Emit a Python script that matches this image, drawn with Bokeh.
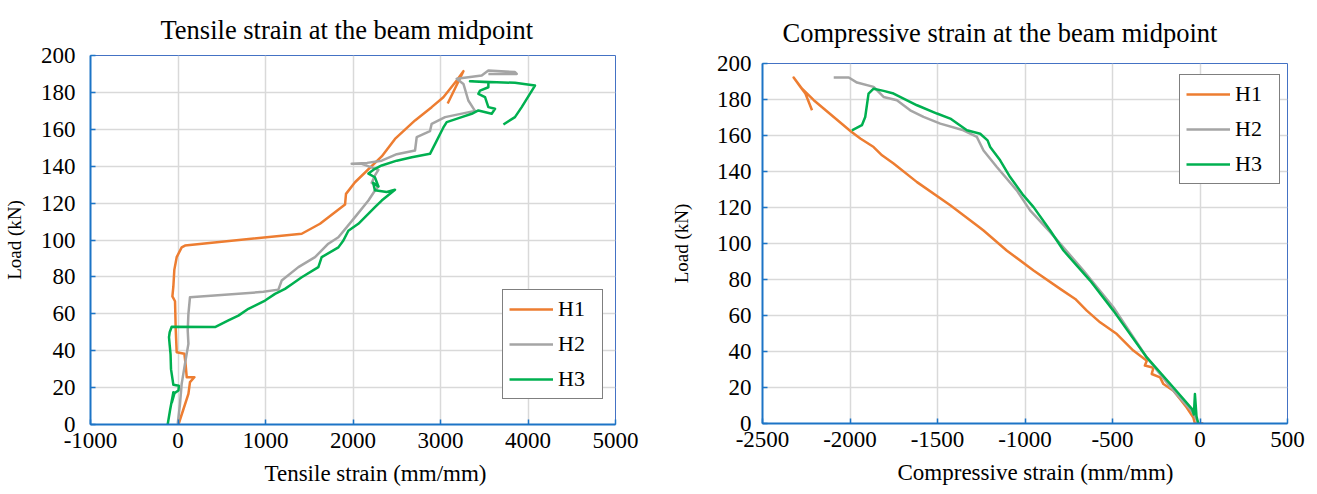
from bokeh.plotting import figure
from bokeh.layouts import row, column
from bokeh.models import Range1d, FixedTicker, Legend, LegendItem, Title
from bokeh.embed import file_html
from bokeh.resources import INLINE

FONT = "Liberation Serif"

# ---------------- data: tensile strain (left) ----------------
t_h1_strain = [5, 60, 119, 137, 187, 100, 88, 73, -15, -26, -34, -64, -53, -42, -15, 42, 80,
               1414, 1623, 1909, 1920, 2023, 2328, 2480, 2709, 2899, 3033, 3185, 3262, 3082]
t_h1_load = [0, 8, 16.6, 23, 25.6, 25.6, 32, 38.3, 39.2, 51.5, 66.8, 69.4, 74.8, 83.8, 90.7, 96, 97,
             103.4, 108.8, 119.2, 125, 131.3, 145.3, 154.8, 164.8, 172, 177.4, 186.4, 191.5, 174]

t_h2_strain = [-3, 23, 42, 80, 119, 111, 119, 137, 976, 1147, 1185, 1376, 1566, 1718, 1833, 2023,
               2176, 2251, 2290, 2214, 2251, 2290, 2100, 1985, 2160, 2328, 2500, 2709, 2728, 2880,
               2899, 3052, 3394, 3318, 3262, 3185, 3471, 3547, 3851, 3871, 3547]
t_h2_load = [0.4, 11.2, 22, 33, 43.7, 51, 60, 69, 71.9, 73.1, 78, 85.3, 90.7, 98, 101.5, 112.4,
             121.4, 126.8, 129, 131, 135, 138, 141.3, 141.3, 141.8, 143, 146.5, 148.5, 155.7, 159,
             163, 166.6, 170, 175.6, 184.6, 187.4, 189.2, 191.9, 191, 190, 190]

t_h3_strain = [-118, -90, -53, -70, -40, 5, 10, -53, -80, -85, -95, -103, -95, -72, 423, 576, 690,
               805, 995, 1109, 1223, 1300, 1414, 1604, 1642, 1833, 1890, 1947, 2061, 2251, 2328,
               2480, 2385, 2250, 2230, 2290, 2250, 2176, 2251, 2328, 2500, 2672, 2880, 2937, 3033,
               3071, 3242, 3357, 3433, 3585, 3623, 3547, 3509, 3433, 3452, 3547, 3547, 3337, 3851,
               4080, 3928, 3851, 3719]
t_h3_load = [0, 8, 17.5, 12, 17, 18.4, 21, 21.5, 30, 38, 43, 47.3, 50, 53, 52.8, 56.4, 59,
             62.7, 67.2, 70.8, 73.5, 76, 79.8, 85.3, 90.7, 96, 99.7, 105, 108.8, 117.8, 121.4,
             127.2, 126, 127, 131, 129, 134, 136, 138.6, 140.4, 143, 144.9, 146.7, 152, 161,
             163.9, 166.6, 168.4, 170.2, 168.4, 171.1, 172, 177.4, 179.2, 181, 182.8, 185.5, 186, 185.2,
             183.7, 172, 166.6, 162.6]

# ---------------- data: compressive strain (right) ----------------
c_h1_strain = [19, -29, -38, -76, -114, -152, -209, -228, -276, -266, -315, -304, -381, -475, -571,
               -647, -713, -799, -951, -1103, -1237, -1274, -1427, -1617, -1751, -1817, -1865,
               -1941, -1998, -2093, -2207, -2274, -2322, -2283, -2255, -2217]
c_h1_load = [0, 0, 3.3, 8.9, 13.6, 18.2, 21.9, 25.6, 27.5, 31, 32.2, 34.9, 40.5, 49.7, 56.2,
             62.7, 69.2, 74.8, 85, 96, 107.2, 110, 121.2, 134.1, 144.4, 149, 153.6,
             158.3, 162.5, 170.3, 179.6, 186, 192.2, 187, 183.3, 174]

c_h2_strain = [-10, -48, -152, -304, -495, -666, -856, -971, -1047, -1161, -1237, -1275, -1352,
               -1484, -1580, -1656, -1732, -1808, -1865, -1960, -2007, -2093]
c_h2_load = [0.5, 7, 18.2, 36.7, 64.6, 85, 106.3, 118.4, 129.5, 142.5, 151.7, 159.2, 162.9,
             166.6, 170.3, 174, 179.6, 181.4, 187, 189.4, 192.2, 192.2]

c_h3_strain = [-10, -20, -29, -35, -45, -152, -304, -495, -628, -780, -856, -951, -1009, -1085,
               -1142, -1199, -1214, -1256, -1332, -1427, -1503, -1617, -1751, -1808, -1865, -1894,
               -1913, -1932, -1989]
c_h3_load = [0, 4, 16.4, 5, 8, 20, 36.7, 62.7, 79.4, 96.1, 107.2, 120.2, 126.7, 136.9,
             146.2, 153.6, 157.3, 161, 162.9, 169.4, 172.2, 176.8, 183.3, 184.8, 186, 183.3,
             170.3, 165.7, 162.9]

series_names = ["H1", "H2", "H3"]
series_colors = ["#ED7D31", "#A5A5A5", "#00B050"]

load_ticks = [0, 20, 40, 60, 80, 100, 120, 140, 160, 180, 200]
load_labels = ["0", "20", "40", "60", "80", "100", "120", "140", "160", "180", "200"]
t_ticks = [-1000, 0, 1000, 2000, 3000, 4000, 5000]
t_labels = ["-1000", "0", "1000", "2000", "3000", "4000", "5000"]
c_ticks = [-2500, -2000, -1500, -1000, -500, 0, 500]
c_labels = ["-2500", "-2000", "-1500", "-1000", "-500", "0", "500"]

AXIS_BLUE = "#1C74C6"


def make_fig(title, xlabel, xr, xt, xl, series, width, mbl, mbr, mbt, mbb,
             title_offset, title_standoff, xlab_offset, ytick_standoff, ylab_standoff, legend_loc):
    p = figure(width=width, height=494, x_range=Range1d(*xr), y_range=Range1d(0, 200),
               output_backend="svg", toolbar_location=None,
               min_border_left=mbl, min_border_right=mbr, min_border_top=mbt, min_border_bottom=mbb)
    p.add_layout(Title(text=title, text_font=FONT, text_font_size="26.5px", text_font_style="normal",
                       text_color="black", align="left", offset=title_offset,
                       standoff=title_standoff), "above")
    p.add_layout(Title(text=xlabel, text_font=FONT, text_font_size="23px", text_font_style="normal",
                       text_color="black", align="left", offset=xlab_offset, standoff=17), "below")
    p.background_fill_color = "white"
    p.border_fill_color = "white"
    p.outline_line_color = "#4472C4"
    p.outline_line_width = 1

    p.xaxis.ticker = FixedTicker(ticks=xt)
    p.xaxis.major_label_overrides = {t: l for t, l in zip(xt, xl)}
    p.yaxis.ticker = FixedTicker(ticks=load_ticks)
    p.yaxis.major_label_overrides = {t: l for t, l in zip(load_ticks, load_labels)}
    for ax in (p.xaxis[0], p.yaxis[0]):
        ax.axis_line_color = AXIS_BLUE
        ax.axis_line_width = 2
        ax.major_tick_line_color = AXIS_BLUE
        ax.major_tick_line_width = 1.5
        ax.major_tick_in = 5
        ax.major_tick_out = 0
        ax.minor_tick_line_color = None
        ax.major_label_text_font = FONT
        ax.major_label_text_font_size = "23px"
        ax.major_label_text_color = "black"
    p.xaxis[0].major_label_standoff = 8
    p.yaxis[0].major_label_standoff = ytick_standoff
    p.yaxis[0].axis_label = "Load (kN)"
    p.yaxis[0].axis_label_text_font = FONT
    p.yaxis[0].axis_label_text_font_size = "19px"
    p.yaxis[0].axis_label_text_font_style = "normal"
    p.yaxis[0].axis_label_text_color = "black"
    p.yaxis[0].axis_label_standoff = ylab_standoff

    p.xgrid.grid_line_color = "#D9D9D9"
    p.ygrid.grid_line_color = "#D9D9D9"
    p.xgrid.grid_line_width = 1.5
    p.ygrid.grid_line_width = 1.5

    items = []
    for (xs, ys), name, col in zip(series, series_names, series_colors):
        r = p.line(xs, ys, line_color=col, line_width=2.5, line_join="round")
        items.append(LegendItem(label=name, renderers=[r]))
    leg = Legend(items=items, location=legend_loc, label_text_font=FONT,
                 label_text_font_size="22px", label_text_color="black",
                 glyph_width=44, glyph_height=20, label_height=20, label_width=38,
                 label_standoff=5, spacing=9, padding=6, margin=0,
                 border_line_color="black", border_line_width=1.5,
                 background_fill_color="white", background_fill_alpha=1)
    p.add_layout(leg)
    return p


p1 = make_fig("Tensile strain at the beam midpoint", "Tensile strain (mm/mm)", (-1000, 5000),
              t_ticks, t_labels,
              [(t_h1_strain, t_h1_load), (t_h2_strain, t_h2_load), (t_h3_strain, t_h3_load)],
              660, 89, 45, 55, 70, 70, 22, 174, 15, 13, (412, 25))
p2 = make_fig("Compressive strain at the beam midpoint", "Compressive strain (mm/mm)", (-2500, 500),
              c_ticks, c_labels,
              [(c_h1_strain, c_h1_load), (c_h2_strain, c_h2_load), (c_h3_strain, c_h3_load)],
              657, 102, 30, 63, 71, 20, 31, 135, 11, 22, (417, 239))

layout = row(column(p1), column(p2))
open("out.html", "w").write(file_html(layout, INLINE))
